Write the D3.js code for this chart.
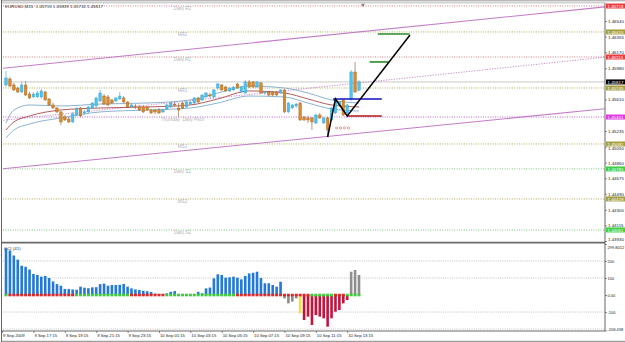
<!DOCTYPE html>
<html lang="en">
<head>
<meta charset="utf-8">
<title>EURUSD,M15</title>
<script src="https://cdn.jsdelivr.net/npm/d3@7"></script>
<style>
  html, body { margin: 0; padding: 0; background: #fff; }
  svg { display: block; font-family: "Liberation Sans", Arial, sans-serif; }
  text { white-space: pre; }
</style>
</head>
<body>
<svg id="chart" width="625" height="342"></svg>
<script>
// ---- data (M15 bars, 9 Sep 15:30 .. 10 Sep 14:00) ----
var openP = [1.45781,1.45852,1.45781,1.45745,1.45698,1.45781,1.45674,1.45639,1.45639,1.45639,
  1.45698,1.45615,1.45544,1.45508,1.45461,1.45401,1.45378,1.45342,1.45425,1.45508,
  1.45449,1.45461,1.45508,1.45532,1.45591,1.45650,1.45639,1.45603,1.45591,1.45615,
  1.45627,1.45579,1.45520,1.45532,1.45520,1.45520,1.45520,1.45484,1.45484,1.45484,
  1.45461,1.45496,1.45520,1.45555,1.45508,1.45567,1.45520,1.45555,1.45567,1.45627,
  1.45603,1.45639,1.45662,1.45639,1.45745,1.45781,1.45757,1.45710,1.45722,1.45793,
  1.45698,1.45686,1.45817,1.45817,1.45757,1.45805,1.45686,1.45698,1.45698,1.45698,
  1.45686,1.45722,1.45461,1.45508,1.45532,1.45567,1.45401,1.45390,1.45390,1.45330,
  1.45425,1.45330,1.45390,1.45366,1.45449,1.45544,1.45603,1.45449,1.45615,1.45935,
  1.45716];
var highP = [1.45947,1.45876,1.45805,1.45757,1.45817,1.45828,1.45698,1.45698,1.45710,1.45733,
  1.45710,1.45627,1.45567,1.45520,1.45472,1.45425,1.45401,1.45461,1.45520,1.45520,
  1.45484,1.45532,1.45579,1.45639,1.45722,1.45674,1.45662,1.45615,1.45639,1.45698,
  1.45650,1.45591,1.45555,1.45555,1.45544,1.45532,1.45532,1.45496,1.45496,1.45508,
  1.45496,1.45555,1.45579,1.45579,1.45567,1.45579,1.45591,1.45591,1.45639,1.45639,
  1.45674,1.45698,1.45686,1.45733,1.45805,1.45793,1.45769,1.45757,1.45769,1.45805,
  1.45769,1.45840,1.45840,1.45828,1.45828,1.45817,1.45710,1.45710,1.45710,1.45710,
  1.45733,1.45733,1.45579,1.45555,1.45567,1.45579,1.45413,1.45413,1.45401,1.45437,
  1.45449,1.45401,1.45401,1.45520,1.45627,1.45591,1.45615,1.45555,1.45959,1.46054,
  1.45839];
var lowP = [1.45757,1.45757,1.45710,1.45686,1.45686,1.45650,1.45615,1.45627,1.45627,1.45615,
  1.45591,1.45532,1.45496,1.45449,1.45307,1.45354,1.45330,1.45330,1.45413,1.45401,
  1.45425,1.45449,1.45496,1.45508,1.45579,1.45544,1.45532,1.45555,1.45579,1.45603,
  1.45567,1.45508,1.45508,1.45496,1.45472,1.45449,1.45472,1.45437,1.45437,1.45437,
  1.45449,1.45484,1.45508,1.45520,1.45401,1.45496,1.45508,1.45544,1.45555,1.45567,
  1.45591,1.45627,1.45627,1.45627,1.45722,1.45710,1.45698,1.45698,1.45710,1.45733,
  1.45686,1.45674,1.45745,1.45745,1.45745,1.45674,1.45662,1.45650,1.45650,1.45650,
  1.45674,1.45449,1.45449,1.45496,1.45508,1.45354,1.45354,1.45330,1.45247,1.45318,
  1.45378,1.45318,1.45164,1.45354,1.45437,1.45532,1.45413,1.45413,1.45591,1.45686,
  1.45716];
var closeP = [1.45864,1.45769,1.45722,1.45698,1.45781,1.45662,1.45627,1.45674,1.45686,1.45710,
  1.45603,1.45544,1.45508,1.45461,1.45342,1.45366,1.45342,1.45437,1.45496,1.45413,
  1.45461,1.45520,1.45567,1.45627,1.45686,1.45555,1.45544,1.45567,1.45627,1.45650,
  1.45579,1.45520,1.45544,1.45528,1.45484,1.45461,1.45484,1.45449,1.45461,1.45449,
  1.45484,1.45544,1.45567,1.45544,1.45484,1.45508,1.45579,1.45579,1.45627,1.45579,
  1.45662,1.45686,1.45650,1.45722,1.45793,1.45722,1.45710,1.45745,1.45757,1.45745,
  1.45757,1.45817,1.45757,1.45757,1.45817,1.45686,1.45698,1.45662,1.45662,1.45662,
  1.45722,1.45461,1.45567,1.45544,1.45555,1.45366,1.45366,1.45366,1.45342,1.45425,
  1.45390,1.45390,1.45247,1.45508,1.45603,1.45579,1.45425,1.45544,1.45935,1.45698,
  1.45817];

// CCI(41) histogram
var cciValues = [275,262,232,208,172,166,150,124,118,108,
  112,100,80,64,55,36,35,33,31,49,
  43,40,45,46,64,67,55,59,59,60,
  65,49,39,33,30,25,22,18,8,6,
  6,10,19,23,3,2,3,3,5,19,
  10,39,44,98,122,118,102,104,108,102,
  92,112,127,131,137,100,69,69,59,49,
  78,-20,-49,-39,-20,-108,-147,-127,-176,-118,
  -127,-137,-186,-137,-98,-88,-49,-29,137,147,
  118];
var cciStateRuns = [["b",71],["k",4],["y",1],["c",12],["k",3]];
var zeroRowRuns = [["g",1],["r",17],["g",14],["r",9],["g",18],["r",19],["g",6],["r",3],["g",4]];

// moving average envelope, read at a few bars
var maIdx   = [0, 2, 6, 14, 24, 36, 47, 54, 62, 71, 77, 83, 90];
var maUpper = [1.45330,1.45484,1.45544,1.45532,1.45555,1.45567,1.45603,1.45686,1.45769,1.45745,1.45686,1.45603,1.45567];
var maMid   = [1.45247,1.45342,1.45413,1.45484,1.45508,1.45520,1.45544,1.45615,1.45710,1.45686,1.45615,1.45544,1.45520];
var maLower = [1.45152,1.45247,1.45318,1.45390,1.45461,1.45484,1.45508,1.45567,1.45650,1.45639,1.45567,1.45496,1.45472];

// pivot levels
var levelNames  = ["Daily R2","MR2","Daily R1","MR1","Thursday  Daily Pivot","MS1","Daily S1","MS2","Daily S2"];
var levelPrices = [1.46718,1.46410,1.46113,1.45745,1.45401,1.45081,1.44785,1.44429,1.44061];
var levelKinds  = ["r","m","r","m","p","m","s","m","s"];
var bidPrice = 1.45817;

// trend channel: [bar, price] anchors
var chanUpper = [[0,1.45983],[90,1.46410]];
var chanMid   = [[0,1.45366],[90,1.45805]];
var chanLower = [[0,1.44790],[90,1.45208]];

// drawn pattern objects
var zigIdx   = [82, 84, 87, 103];
var zigPrice = [1.45164, 1.45615, 1.45413, 1.46374];
var hLines = [
  {from: 83.4, to: 95.8, price: 1.45615, color: "#1010c0"},
  {from: 86.9, to: 95.8, price: 1.45413, color: "#b01818"},
  {from: 94.8, to: 102.9, price: 1.46386, color: "#2a8a2a"},
  {from: 92.7, to: 97.6, price: 1.46054, color: "#2a8a2a"}
];
var dotIdx = [84.3, 85.3, 86.3, 87.3];
var dotPrice = 1.45271;

// axis labels (ticks hidden behind the level boxes are left out, as in the picture)
var priceTicks = [1.46540,1.46355,1.46170,1.45980,1.45610,1.45235,1.45050,
  1.44860,1.44675,1.44490,1.44300,1.44115,1.43930];
var cciTicks = [299.8012, 200, 100, 0, -100, -208.438];
var cciTickText = ["299.8012","200","100","0.00","-100","-208.438"];
var timeIdx = [-1, 7, 15, 23, 31, 39, 47, 55, 63, 71, 79, 87];
var timeText = ["9 Sep 2009","9 Sep 17:15","9 Sep 19:15","9 Sep 21:15","9 Sep 23:15",
  "10 Sep 01:15","10 Sep 03:15","10 Sep 05:15","10 Sep 07:15","10 Sep 09:15",
  "10 Sep 11:15","10 Sep 13:15"];

// ---- drawing ----
var svg = d3.select("#chart");
var L = 3, R = 605, mainTop = 3, mainBot = 242, cciTop = 243, cciBot = 331;

var x  = d3.scaleLinear().domain([0, 90]).range([6, 359]);
var y  = d3.scaleLinear().domain([1.43930, 1.46540]).range([241, 21]);
var yc = d3.scaleLinear().domain([-208.438, 299.8012]).range([330.5, 244]);

function expand(runs) {
  var out = [];
  runs.forEach(function (r) { for (var k = 0; k < r[1]; k++) out.push(r[0]); });
  return out;
}
var cciState = expand(cciStateRuns);
var zeroRow = expand(zeroRowRuns);

var defs = svg.append("defs");
defs.append("clipPath").attr("id", "clipMain").append("rect")
  .attr("x", L).attr("y", mainTop).attr("width", R - L).attr("height", mainBot - mainTop);
defs.append("clipPath").attr("id", "clipCci").append("rect")
  .attr("x", L).attr("y", cciTop).attr("width", R - L).attr("height", cciBot - cciTop);

var main = svg.append("g").attr("clip-path", "url(#clipMain)");

// level lines
var lineCol = {r: "#d27070", m: "#a8a048", p: "#b050c0", s: "#6cc46c"};
var boxCol  = {r: "#ec3c3c", m: "#a8a040", p: "#e238e2", s: "#40d040"};
levelPrices.forEach(function (p, k) {
  main.append("line").attr("x1", L).attr("x2", R).attr("y1", y(p)).attr("y2", y(p))
    .attr("stroke", lineCol[levelKinds[k]]).attr("stroke-width", 0.9)
    .attr("stroke-dasharray", "1,1.4");
  main.append("text").attr("x", x(45)).attr("y", y(p) + 4.3)
    .attr("text-anchor", "middle").attr("font-size", 4.6).attr("fill", "#b4b4b4")
    .text(levelNames[k]);
});

// bid line
main.append("line").attr("x1", L).attr("x2", R).attr("y1", y(bidPrice)).attr("y2", y(bidPrice))
  .attr("stroke", "#c8c8c8").attr("stroke-width", 1);

// channel
function chanLine(a, dashed) {
  var slope = (a[1][1] - a[0][1]) / (a[1][0] - a[0][0]);
  var i0 = -2, i1 = 160;
  main.append("line")
    .attr("x1", x(i0)).attr("y1", y(a[0][1] + slope * (i0 - a[0][0])))
    .attr("x2", x(i1)).attr("y2", y(a[0][1] + slope * (i1 - a[0][0])))
    .attr("stroke", "#c47cc8").attr("stroke-width", dashed ? 0.9 : 1.1)
    .attr("stroke-dasharray", dashed ? "1.2,1.4" : null);
}
chanLine(chanUpper, false);
chanLine(chanMid, true);
chanLine(chanLower, false);

// moving averages
function maPath(vals, color, w) {
  var line = d3.line().curve(d3.curveMonotoneX)
    .x(function (d, k) { return x(maIdx[k]); })
    .y(function (d) { return y(d); });
  main.append("path").attr("d", line(vals)).attr("fill", "none")
    .attr("stroke", color).attr("stroke-width", w);
}
maPath(maUpper, "#7ea9cc", 0.9);
maPath(maMid, "#a84a4a", 0.9);
maPath(maLower, "#7ea9cc", 0.9);

// candles
var bars = d3.range(openP.length);
var bull = function (i) { return closeP[i] >= openP[i]; };
main.selectAll("line.wick").data(bars).enter().append("line").attr("class", "wick")
  .attr("x1", function (i) { return x(i); }).attr("x2", function (i) { return x(i); })
  .attr("y1", function (i) { return y(highP[i]); }).attr("y2", function (i) { return y(lowP[i]); })
  .attr("stroke", function (i) { return bull(i) ? "#5aaed0" : "#9a6a3a"; })
  .attr("stroke-width", 0.7);
main.selectAll("rect.body").data(bars).enter().append("rect").attr("class", "body")
  .attr("x", function (i) { return x(i) - 1.3; })
  .attr("width", 2.6)
  .attr("y", function (i) { return Math.min(y(openP[i]), y(closeP[i])); })
  .attr("height", function (i) { return Math.max(0.8, Math.abs(y(openP[i]) - y(closeP[i]))); })
  .attr("fill", function (i) { return bull(i) ? "#4cc4ee" : "#d98a2e"; })
  .attr("stroke", function (i) { return bull(i) ? "#3a9cc4" : "#a8641e"; })
  .attr("stroke-width", 0.4);

// markers
main.selectAll("circle.mk").data(dotIdx).enter().append("circle").attr("class", "mk")
  .attr("cx", function (d) { return x(d); }).attr("cy", y(dotPrice)).attr("r", 1.1)
  .attr("fill", "none").attr("stroke", "#e07070").attr("stroke-width", 0.7);

// pattern lines
hLines.forEach(function (h) {
  main.append("line").attr("x1", x(h.from)).attr("x2", x(h.to))
    .attr("y1", y(h.price)).attr("y2", y(h.price))
    .attr("stroke", h.color).attr("stroke-width", 1.6);
});
main.append("path")
  .attr("d", d3.line().x(function (d, k) { return x(zigIdx[k]); }).y(function (d) { return y(d); })(zigPrice))
  .attr("fill", "none").attr("stroke", "#000").attr("stroke-width", 1.5);

// chart shift marker
svg.append("path").attr("d", d3.symbol().type(d3.symbolTriangle).size(7)())
  .attr("transform", "translate(" + x(91) + ",5) rotate(180)").attr("fill", "#8a8a8a");

// title
svg.append("text").attr("x", 5).attr("y", 8).attr("font-size", 4.4).attr("fill", "#333")
  .text("EURUSD,M15  1.45716 1.45839 1.45716 1.45817");

// ---- CCI panel ----
var cci = svg.append("g").attr("clip-path", "url(#clipCci)");
[200, 100, -100, -200].forEach(function (v) {
  cci.append("line").attr("x1", L).attr("x2", R).attr("y1", yc(v)).attr("y2", yc(v))
    .attr("stroke", "#a8a8a8").attr("stroke-width", 0.7).attr("stroke-dasharray", "1,1.2");
});
var cciFill = {b: "#2478d8", k: "#8e8e8e", y: "#f2e23a", c: "#c4143c"};
cci.selectAll("rect.cci").data(bars).enter().append("rect").attr("class", "cci")
  .attr("x", function (i) { return x(i) - 1.3; }).attr("width", 2.6)
  .attr("y", function (i) { return Math.min(yc(0), yc(cciValues[i])); })
  .attr("height", function (i) { return Math.abs(yc(cciValues[i]) - yc(0)); })
  .attr("fill", function (i) { return cciFill[cciState[i]]; });
cci.selectAll("rect.zero").data(bars).enter().append("rect").attr("class", "zero")
  .attr("x", function (i) { return x(i) - 1.5; }).attr("width", 3)
  .attr("y", yc(0) - 1.3).attr("height", 2.6)
  .attr("fill", function (i) { return zeroRow[i] === "g" ? "#3ccc3c" : "#e02828"; });
svg.append("text").attr("x", 4).attr("y", 250).attr("font-size", 4.4).attr("fill", "#333")
  .text("CCI (41)");

// ---- frames ----
var frame = svg.append("g").attr("fill", "none");
frame.append("line").attr("x1", 1.5).attr("x2", 1.5).attr("y1", 0).attr("y2", 342).attr("stroke", "#666");
frame.append("line").attr("x1", 2).attr("x2", 625).attr("y1", 0.8).attr("y2", 0.8).attr("stroke", "#999");
frame.append("line").attr("x1", 2).attr("x2", R).attr("y1", 2.8).attr("y2", 2.8).attr("stroke", "#aaa").attr("stroke-width", 0.8);
frame.append("line").attr("x1", 2).attr("x2", R).attr("y1", 242.6).attr("y2", 242.6).attr("stroke", "#6a6a6a").attr("stroke-width", 1.6);
frame.append("line").attr("x1", 2).attr("x2", R).attr("y1", cciBot).attr("y2", cciBot).attr("stroke", "#6a6a6a").attr("stroke-width", 1);
frame.append("line").attr("x1", R).attr("x2", R).attr("y1", 2.8).attr("y2", cciBot).attr("stroke", "#555").attr("stroke-width", 0.9);
frame.append("line").attr("x1", 2).attr("x2", 625).attr("y1", 341.3).attr("y2", 341.3).attr("stroke", "#888");

// price axis
var pAxis = svg.append("g").attr("transform", "translate(" + R + ",0)")
  .call(d3.axisRight(y).tickValues(priceTicks).tickSize(2).tickFormat(d3.format(".5f")));
pAxis.select(".domain").remove();
pAxis.selectAll("line").attr("stroke", "#444").attr("stroke-width", 0.6);
pAxis.selectAll("text").attr("x", 3).attr("font-size", 4.4).attr("fill", "#222")
  .attr("font-family", "Liberation Sans, Arial, sans-serif")
  .attr("dy", function (d) { return d === 1.43930 ? "-0.2em" : (d === 1.45050 ? "0.55em" : "0.32em"); });

// colored level boxes on the axis
var boxes = svg.append("g");
levelPrices.forEach(function (p, k) {
  boxes.append("rect").attr("x", R + 1).attr("y", y(p) - 2.5).attr("width", 19).attr("height", 5)
    .attr("fill", boxCol[levelKinds[k]]);
  boxes.append("text").attr("x", R + 2.5).attr("y", y(p) + 1.6).attr("font-size", 4.4)
    .attr("fill", "#fff").text(d3.format(".5f")(p));
});
boxes.append("rect").attr("x", R + 1).attr("y", y(bidPrice) - 2.5).attr("width", 19).attr("height", 5)
  .attr("fill", "#000");
boxes.append("text").attr("x", R + 2.5).attr("y", y(bidPrice) + 1.6).attr("font-size", 4.4)
  .attr("fill", "#fff").text(d3.format(".5f")(bidPrice));

// CCI axis
var cAxis = svg.append("g").attr("transform", "translate(" + R + ",0)")
  .call(d3.axisRight(yc).tickValues(cciTicks).tickSize(2)
    .tickFormat(function (d, k) { return cciTickText[k]; }));
cAxis.select(".domain").remove();
cAxis.selectAll("line").attr("stroke", "#444").attr("stroke-width", 0.6);
cAxis.selectAll("text").attr("x", 2.5).attr("font-size", 4.0).attr("fill", "#222")
  .attr("font-family", "Liberation Sans, Arial, sans-serif")
  .attr("dy", function (d) { return d === 299.8012 ? "1.0em" : (d === -208.438 ? "-0.1em" : "0.32em"); });

// time axis
var tAxis = svg.append("g").attr("transform", "translate(0," + cciBot + ")")
  .call(d3.axisBottom(x).tickValues(timeIdx).tickSize(2)
    .tickFormat(function (d, k) { return timeText[k]; }));
tAxis.select(".domain").remove();
tAxis.selectAll("line").attr("stroke", "#444").attr("stroke-width", 0.6);
tAxis.selectAll("text").attr("text-anchor", "start").attr("x", 0.5).attr("y", 3)
  .attr("font-size", 4.2).attr("fill", "#222")
  .attr("font-family", "Liberation Sans, Arial, sans-serif");
</script>
</body>
</html>
